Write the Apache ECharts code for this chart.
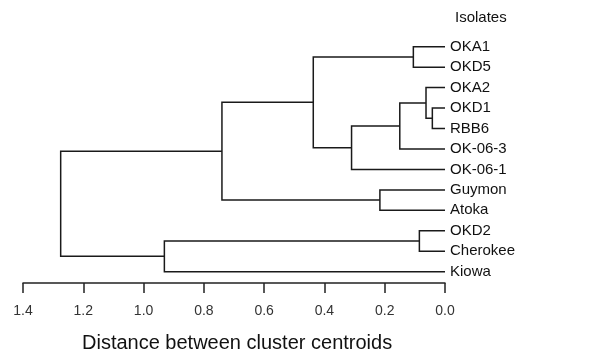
<!DOCTYPE html>
<html><head><meta charset="utf-8">
<script src="https://cdn.jsdelivr.net/npm/echarts@6/dist/echarts.min.js"></script>
<style>html,body{margin:0;padding:0;background:#fff}#c{width:607px;height:357px}</style>
</head><body><div id="c"></div>
<script>
var leaves = ['OKA1','OKD5','OKA2','OKD1','RBB6','OK-06-3','OK-06-1','Guymon','Atoka','OKD2','Cherokee','Kiowa'];
var mergeA = ['OKA1','OKD1','OKA2','m2','m3','m0','Guymon','m5','OKD2','m8','m7'];
var mergeB = ['OKD5','RBB6','m1','OK-06-3','OK-06-1','m4','Atoka','m6','Cherokee','Kiowa','m9'];
var mergeHeight = [0.105,0.042,0.063,0.150,0.310,0.437,0.216,0.740,0.085,0.931,1.275];

var pos = {};
leaves.forEach(function(n,i){ pos[n] = {h:0, y:i}; });
var segs = [];
for (var i=0;i<mergeHeight.length;i++){
  var a = pos[mergeA[i]], b = pos[mergeB[i]], h = mergeHeight[i];
  segs.push([a.h, a.y, h, b.y, b.h]);
  pos['m'+i] = {h:h, y:(a.y+b.y)/2};
}

var chart = echarts.init(document.getElementById('c'));
chart.setOption({
  animation:false,
  backgroundColor:'#fff',
  title:{text:'Isolates', left:450, top:5, textStyle:{fontFamily:'Liberation Sans, Arial', fontSize:15, fontWeight:'normal', color:'#111'}},
  grid:{left:23, right:162, top:46.7, bottom:85.3},
  xAxis:{type:'value', inverse:true, min:0, max:1.4, interval:0.2, offset:11.3, position:'bottom',
    axisLine:{show:true, onZero:false, lineStyle:{color:'#222', width:1.5}},
    axisTick:{show:true, length:10, lineStyle:{color:'#222', width:1.5}},
    splitLine:{show:false},
    axisLabel:{margin:21, fontSize:14, color:'#333', fontFamily:'Liberation Sans, Arial', formatter:function(v){return v.toFixed(1);}}
  },
  yAxis:{type:'value', inverse:true, min:0, max:leaves.length-1, interval:1, position:'right',
    axisLine:{show:false, onZero:false}, axisTick:{show:false}, splitLine:{show:false},
    axisLabel:{margin:5, fontSize:15, color:'#111', fontFamily:'Liberation Sans, Arial', formatter:function(v){return leaves[Math.round(v)] || '';}}
  },
  graphic:[{type:'text', left:82, top:333, style:{text:'Distance between cluster centroids', fontSize:20, fill:'#111', fontFamily:'Liberation Sans, Arial'}}],
  series:[{
    type:'custom',
    coordinateSystem:'cartesian2d',
    data: segs,
    renderItem:function(params, api){
      var p1 = api.coord([api.value(0), api.value(1)]);
      var p2 = api.coord([api.value(2), api.value(1)]);
      var p3 = api.coord([api.value(2), api.value(3)]);
      var p4 = api.coord([api.value(4), api.value(3)]);
      return {type:'polyline', shape:{points:[p1,p2,p3,p4]}, style:{stroke:'#1a1a1a', lineWidth:1.5, fill:null}};
    }
  }]
});
</script></body></html>
